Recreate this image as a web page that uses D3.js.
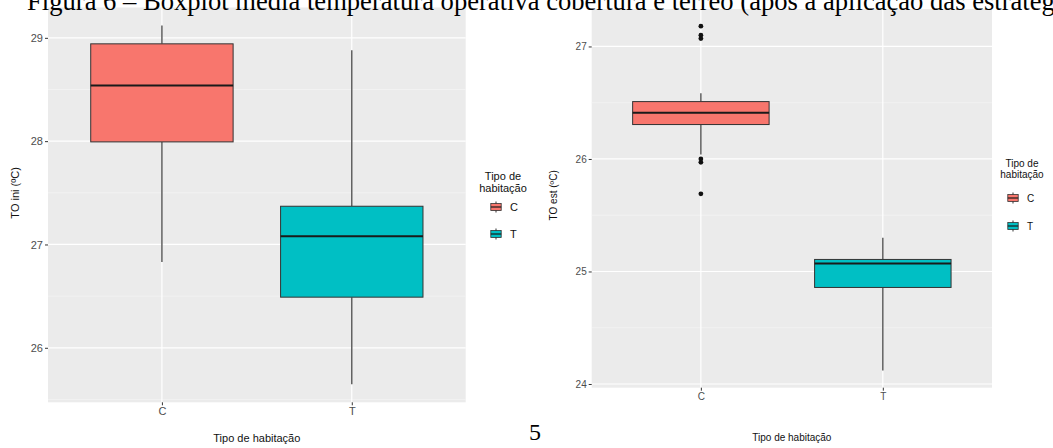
<!DOCTYPE html>
<html><head><meta charset="utf-8">
<script src="https://cdn.jsdelivr.net/npm/d3@7"></script>
<style>
html,body{margin:0;padding:0;background:#fff;overflow:hidden}
svg{display:block}
</style></head>
<body>
<script>
// ---------- DATA ----------
const titleText = "Figura 6 – Boxplot média temperatura operativa cobertura e térreo (após a aplicação das estratégias)";
const pageNumber = "5";
const categories = ["C", "T"];
const legendTitle = ["Tipo de", "habitação"];
const xTitle = "Tipo de habitação";

// left panel: TO ini (ºC)
const leftYTitle = "TO ini (ºC)";
const leftTicks = [26, 27, 28, 29];
const leftMin    = [26.83, 25.646];
const leftQ1     = [27.993, 26.49];
const leftMedian = [28.539, 27.08];
const leftQ3     = [28.942, 27.37];
const leftMax    = [29.12, 28.88];
const leftOutliers = [[], []];

// right panel: TO est (ºC)
const rightYTitle = "TO est (ºC)";
const rightTicks = [24, 25, 26, 27];
const rightMin    = [26.04, 24.12];
const rightQ1     = [26.306, 24.858];
const rightMedian = [26.41, 25.07];
const rightQ3     = [26.51, 25.107];
const rightMax    = [26.584, 25.30];
const rightOutliers = [[27.18, 27.10, 27.07, 26.0, 25.97, 25.69], []];

const colors = ["#F8766D", "#00BFC4"];

// ---------- DRAW ----------
const W = 1053, H = 448;
const svg = d3.select("body").append("svg").attr("width", W).attr("height", H);

function panel(cfg) {
  const g = svg.append("g");
  const data = categories.map((c, i) => ({
    cat: c, min: cfg.min[i], q1: cfg.q1[i], med: cfg.med[i], q3: cfg.q3[i], max: cfg.max[i],
    out: cfg.out[i], color: colors[i]
  }));
  const all = data.flatMap(d => [d.min, d.max, ...d.out]);
  const lo = d3.min(all), hi = d3.max(all), span = hi - lo;
  const y = d3.scaleLinear().domain([lo - 0.05 * span, hi + 0.05 * span]).range([cfg.bottom, cfg.top]);
  const xc = d3.scaleLinear().domain([0.4, 2.6]).range([cfg.left, cfg.right]);
  const x = d => xc(categories.indexOf(d) + 1);
  const bw = xc(0.75) - xc(0);

  g.append("rect").attr("x", cfg.left).attr("y", cfg.top)
    .attr("width", cfg.right - cfg.left).attr("height", cfg.bottom - cfg.top).attr("fill", "#EBEBEB");
  const minor = cfg.ticks.slice(0, -1).map(t => t + 0.5).concat([cfg.ticks[0] - 0.5, cfg.ticks[cfg.ticks.length - 1] + 0.5])
    .filter(v => y(v) > cfg.top && y(v) < cfg.bottom);
  g.selectAll(".mn").data(minor).join("line")
    .attr("x1", cfg.left).attr("x2", cfg.right).attr("y1", d => y(d)).attr("y2", d => y(d))
    .attr("stroke", "#F7F7F7").attr("stroke-width", 0.6);
  g.selectAll(".mj").data(cfg.ticks).join("line")
    .attr("x1", cfg.left).attr("x2", cfg.right).attr("y1", d => y(d)).attr("y2", d => y(d))
    .attr("stroke", "#fff").attr("stroke-width", 1.2);
  g.selectAll(".vx").data(categories).join("line")
    .attr("x1", d => x(d)).attr("x2", d => x(d)).attr("y1", cfg.top).attr("y2", cfg.bottom)
    .attr("stroke", "#fff").attr("stroke-width", 1.2);

  const ya = d3.axisLeft(y).tickValues(cfg.ticks).tickSize(3).tickPadding(2).tickFormat(d3.format("d"));
  const yg = g.append("g").attr("transform", `translate(${cfg.left},0)`).call(ya);
  yg.select(".domain").remove();
  yg.selectAll("line").attr("stroke", "#333");
  yg.selectAll("text").attr("fill", "#4D4D4D").style("font-family", "Liberation Sans, Arial, sans-serif").style("font-size", cfg.fs + "px");

  const xa = d3.axisBottom(xc).tickValues([1, 2]).tickSize(3).tickPadding(2).tickFormat(d => categories[d - 1]);
  const xg = g.append("g").attr("transform", `translate(0,${cfg.bottom})`).call(xa);
  xg.select(".domain").remove();
  xg.selectAll("line").attr("stroke", "#333");
  xg.selectAll("text").attr("fill", "#4D4D4D").style("font-family", "Liberation Sans, Arial, sans-serif").style("font-size", cfg.fs + "px");

  const b = g.selectAll(".box").data(data).join("g");
  b.append("line").attr("x1", d => x(d.cat)).attr("x2", d => x(d.cat))
    .attr("y1", d => y(d.max)).attr("y2", d => y(d.q3)).attr("stroke", "#555").attr("stroke-width", 1.4);
  b.append("line").attr("x1", d => x(d.cat)).attr("x2", d => x(d.cat))
    .attr("y1", d => y(d.q1)).attr("y2", d => y(d.min)).attr("stroke", "#555").attr("stroke-width", 1.4);
  b.append("rect").attr("x", d => x(d.cat) - bw / 2).attr("width", bw)
    .attr("y", d => y(d.q3)).attr("height", d => y(d.q1) - y(d.q3))
    .attr("fill", d => d.color).attr("stroke", "#333").attr("stroke-width", 1);
  b.append("line").attr("x1", d => x(d.cat) - bw / 2).attr("x2", d => x(d.cat) + bw / 2)
    .attr("y1", d => y(d.med)).attr("y2", d => y(d.med)).attr("stroke", "#1a1a1a").attr("stroke-width", 2);
  b.selectAll("circle").data(d => d.out.map(v => ({ v, cat: d.cat }))).join("circle")
    .attr("cx", d => x(d.cat)).attr("cy", d => y(d.v)).attr("r", 2.4).attr("fill", "#111");

  const ff = "Liberation Sans, Arial, sans-serif";
  g.append("text").attr("transform", `translate(${cfg.ytX},${(cfg.top + cfg.bottom) / 2 + cfg.ytDy}) rotate(-90)`)
    .attr("text-anchor", "middle").attr("dominant-baseline", "central")
    .style("font-family", ff).style("font-size", cfg.fs + "px").attr("fill", "#111").text(cfg.ytitle);
  g.append("text").attr("x", (cfg.left + cfg.right) / 2).attr("y", cfg.xtY)
    .attr("text-anchor", "middle").style("font-family", ff).style("font-size", cfg.fs + "px").attr("fill", "#111").text(xTitle);

  const lg = g.append("g");
  lg.selectAll(".lt").data(legendTitle).join("text")
    .attr("x", cfg.legX).attr("y", (d, i) => cfg.legY + i * cfg.fs * 1.1)
    .attr("text-anchor", "middle").style("font-family", ff).style("font-size", cfg.fs + "px").attr("fill", "#111").text(d => d);
  const key = lg.selectAll(".key").data(data).join("g")
    .attr("transform", (d, i) => `translate(${cfg.keyX},${cfg.keyY + i * cfg.keyGap})`);
  const ks = 13;
  key.append("line").attr("x1", 0).attr("x2", 0).attr("y1", -ks * 0.42).attr("y2", ks * 0.42).attr("stroke", "#555").attr("stroke-width", 1.2);
  key.append("rect").attr("x", -ks * 0.4).attr("y", -ks * 0.27).attr("width", ks * 0.8).attr("height", ks * 0.54)
    .attr("fill", d => d.color).attr("stroke", "#333").attr("stroke-width", 0.8);
  key.append("line").attr("x1", -ks * 0.4).attr("x2", ks * 0.4).attr("y1", 0).attr("y2", 0).attr("stroke", "#1a1a1a").attr("stroke-width", 1.2);
  key.append("text").attr("x", 14).attr("y", 0).attr("dominant-baseline", "central")
    .style("font-family", ff).style("font-size", cfg.fs + "px").attr("fill", "#111").text(d => d.cat);
}

panel({
  left: 48, right: 465.7, top: 7.5, bottom: 402.3, ticks: leftTicks,
  min: leftMin, q1: leftQ1, med: leftMedian, q3: leftQ3, max: leftMax, out: leftOutliers,
  ytitle: leftYTitle, ytX: 15, ytDy: -12, xtY: 442, fs: 11,
  legX: 503, legY: 180, keyX: 496, keyY: 207, keyGap: 27
});
panel({
  left: 591.7, right: 992, top: 9, bottom: 387.7, ticks: rightTicks,
  min: rightMin, q1: rightQ1, med: rightMedian, q3: rightQ3, max: rightMax, out: rightOutliers,
  ytitle: rightYTitle, ytX: 553, ytDy: -3, xtY: 441, fs: 10,
  legX: 1022, legY: 167, keyX: 1013, keyY: 198, keyGap: 28
});

svg.append("text").attr("x", 27).attr("y", 10)
  .style("font-family", "Liberation Serif, Times New Roman, serif").style("font-size", "26.6px")
  .attr("fill", "#000").text(titleText);
svg.append("text").attr("x", 535).attr("y", 440).attr("text-anchor", "middle")
  .style("font-family", "Liberation Serif, Times New Roman, serif").style("font-size", "24px")
  .attr("fill", "#000").text(pageNumber);
</script>
</body></html>
